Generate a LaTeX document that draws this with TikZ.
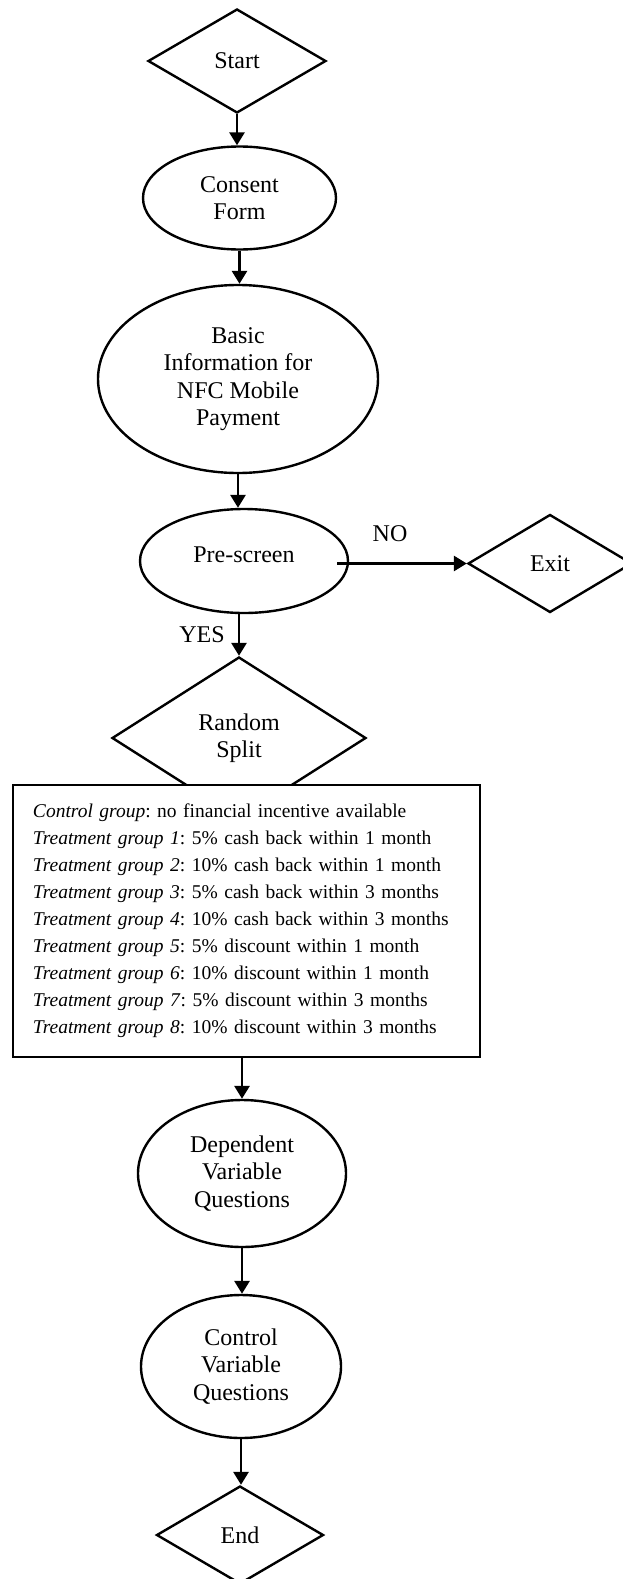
\documentclass[tikz,border=0pt]{standalone}
\usepackage{fontspec}
\setmainfont{Liberation Serif}
\usetikzlibrary{shapes.geometric,arrows.meta}
\frenchspacing
\begin{document}
\begin{tikzpicture}[x=1bp,y=-1bp,
  outline/.style={draw=black,line width=2.4bp},
  bigtext/.style={font=\fontsize{24bp}{27.5bp}\selectfont},
  oval/.style={outline,ellipse,inner sep=0pt,align=center,bigtext},
  decision/.style={outline,diamond,inner sep=0pt,align=center,bigtext},
  flow/.style={line width=2.9bp,-{Triangle[length=13bp,width=15bp]}},
  lbl/.style={inner sep=0pt,bigtext}]
\useasboundingbox (0,0) rectangle (623,1579);
\clip (0,0) rectangle (623,1579);

% flow steps
\node[decision,minimum width=178bp,minimum height=104bp] (start) at (237,61) {Start};
\node[oval,minimum width=193bp,minimum height=103bp] (consent) at (239.5,198) {Consent\\Form};
\node[oval,minimum width=280bp,minimum height=188bp] (basic) at (238,379)
  {Basic\\Information for\\NFC Mobile\\Payment};
\node[oval,minimum width=208bp,minimum height=104bp] (pre) at (244,561) {\raisebox{12bp}{Pre-screen}};
\node[decision,minimum width=164bp,minimum height=98bp] (exit) at (550,563.5) {Exit};
\node[decision,minimum width=254bp,minimum height=162bp] (random) at (239,738) {Random\\Split};

% treatment groups (drawn over the lower tip of the split diamond)
\node[draw=black,line width=2.6bp,fill=white,rectangle,inner xsep=20bp,inner ysep=0pt,
  text width=427bp,minimum height=272bp,align=left,
  font=\fontsize{19.5bp}{27bp}\selectfont] (groups) at (246.5,921) {%
  \textit{Control group}: no financial incentive available\\
  \textit{Treatment group 1}: 5\% cash back within 1 month\\
  \textit{Treatment group 2}: 10\% cash back within 1 month\\
  \textit{Treatment group 3}: 5\% cash back within 3 months\\
  \textit{Treatment group 4}: 10\% cash back within 3 months\\
  \textit{Treatment group 5}: 5\% discount within 1 month\\
  \textit{Treatment group 6}: 10\% discount within 1 month\\
  \textit{Treatment group 7}: 5\% discount within 3 months\\
  \textit{Treatment group 8}: 10\% discount within 3 months};

\node[oval,minimum width=208bp,minimum height=147bp] (dep) at (242,1173.5)
  {Dependent\\Variable\\Questions};
\node[oval,minimum width=200bp,minimum height=143bp] (ctrl) at (241,1366.5)
  {Control\\Variable\\Questions};
\node[decision,minimum width=167bp,minimum height=98bp] (end) at (240,1535) {End};

% branch labels
\node[lbl] (no) at (390,534) {NO};
\node[lbl] (yes) at (202,635) {YES};

% connectors
\coordinate (noStart) at (337,563.5);
\draw[flow] (start.south) -- (start.south |- consent.north);
\draw[flow] (consent.south) -- (consent.south |- basic.north);
\draw[flow] (basic.south) -- (basic.south |- pre.north);
\draw[flow] (noStart) -- (exit.west);
\draw[flow] (random.north |- pre.south) -- (random.north);
\draw[flow] (groups.south -| dep.north) -- (dep.north);
\draw[flow] (dep.south) -- (dep.south |- ctrl.north);
\draw[flow] (ctrl.south) -- (ctrl.south |- end.north);
\end{tikzpicture}
\end{document}
